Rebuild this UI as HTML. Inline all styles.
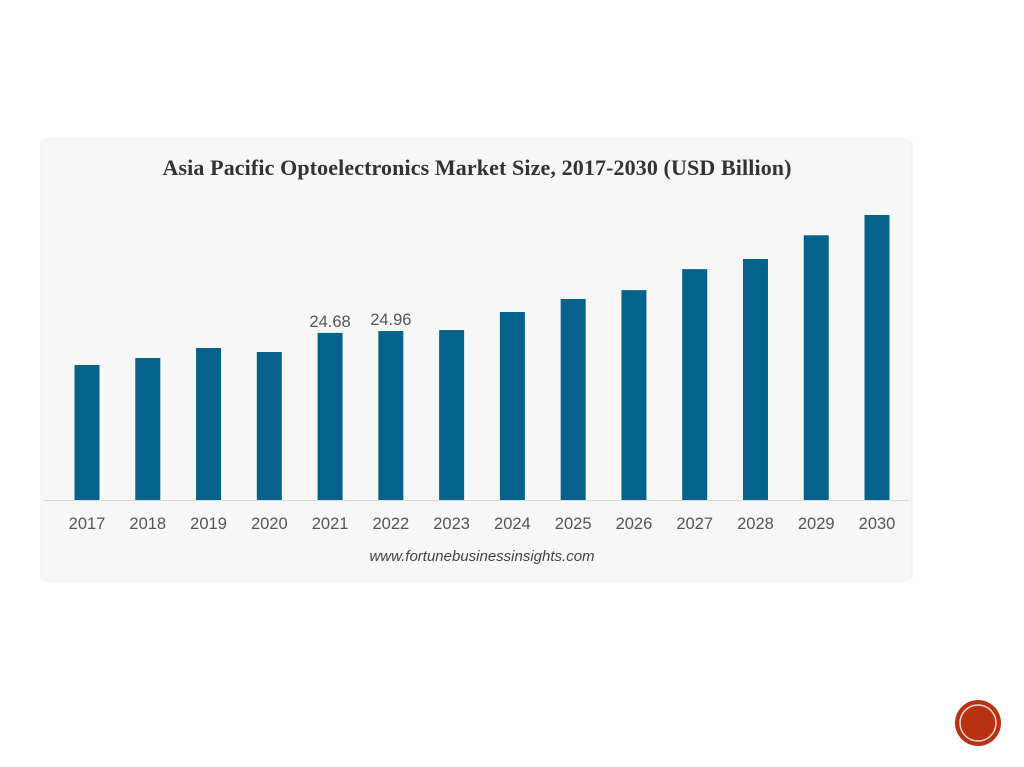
<!DOCTYPE html>
<html><head><meta charset="utf-8"><style>
body{margin:0;width:1024px;height:767px;background:#fff;position:relative;overflow:hidden;font-family:"Liberation Sans",sans-serif}
#card{position:absolute;left:42px;top:140px;width:869px;height:440px;background:#f7f7f7;box-shadow:0 0 3px rgba(0,0,0,0.15)}
</style></head><body>
<div id="card">
<svg id="chart" width="869" height="440"></svg>
</div>
<svg width="60" height="60" style="position:absolute;left:948px;top:693px">
<circle cx="30" cy="30" r="23" fill="#b83212"/>
<circle cx="30" cy="30" r="18" fill="none" stroke="#f3d9cf" stroke-width="1.5"/>
</svg>
<script>
const categories=["2017","2018","2019","2020","2021","2022","2023","2024","2025","2026","2027","2028","2029","2030"];
const values=[19.94,20.97,22.45,21.86,24.68,24.96,25.1,27.77,29.69,31.0,34.1,35.6,39.1,42.1];
const labels=[null,null,null,null,"24.68","24.96",null,null,null,null,null,null,null,null];
const NS="http://www.w3.org/2000/svg";
const svg=document.getElementById('chart');
const ox=42,oy=140;
const baseY=500-oy, pxPerUnit=6.77;
function xc(i){return 87-ox+i*60.77;}
function yv(v){return baseY-v*pxPerUnit;}
function mk(t,a,txt){const e=document.createElementNS(NS,t);for(const k in a)e.setAttribute(k,a[k]);if(txt!=null)e.textContent=txt;svg.appendChild(e);return e;}
let t=mk('text',{x:435,y:35,'text-anchor':'middle','font-family':'Liberation Serif, serif','font-weight':'bold','font-size':'22',fill:'#333',textLength:629});
t.textContent='Asia Pacific Optoelectronics Market Size, 2017-2030 (USD Billion)';


let ax=mk('line',{x1:2,x2:867,y1:baseY+0.5,y2:baseY+0.5,stroke:'#d8d8d8','stroke-width':1});


categories.forEach((c,i)=>{
 const r=mk('rect',{x:xc(i)-12.5,y:yv(values[i]),width:25,height:values[i]*pxPerUnit,fill:'#04628b'});
 
 
 const l=mk('text',{x:xc(i),y:baseY+29,'text-anchor':'middle','font-size':'16.5',fill:'#555'},c);
 
 
 if(labels[i]){
  const v=mk('text',{x:xc(i),y:yv(values[i])-6,'text-anchor':'middle','font-size':'16.5',fill:'#555'},labels[i]);
  
  
 }
});
let s=mk('text',{x:440,y:421,'text-anchor':'middle','font-size':'15','font-style':'italic',fill:'#444'},'www.fortunebusinessinsights.com');


</script>
</body></html>
